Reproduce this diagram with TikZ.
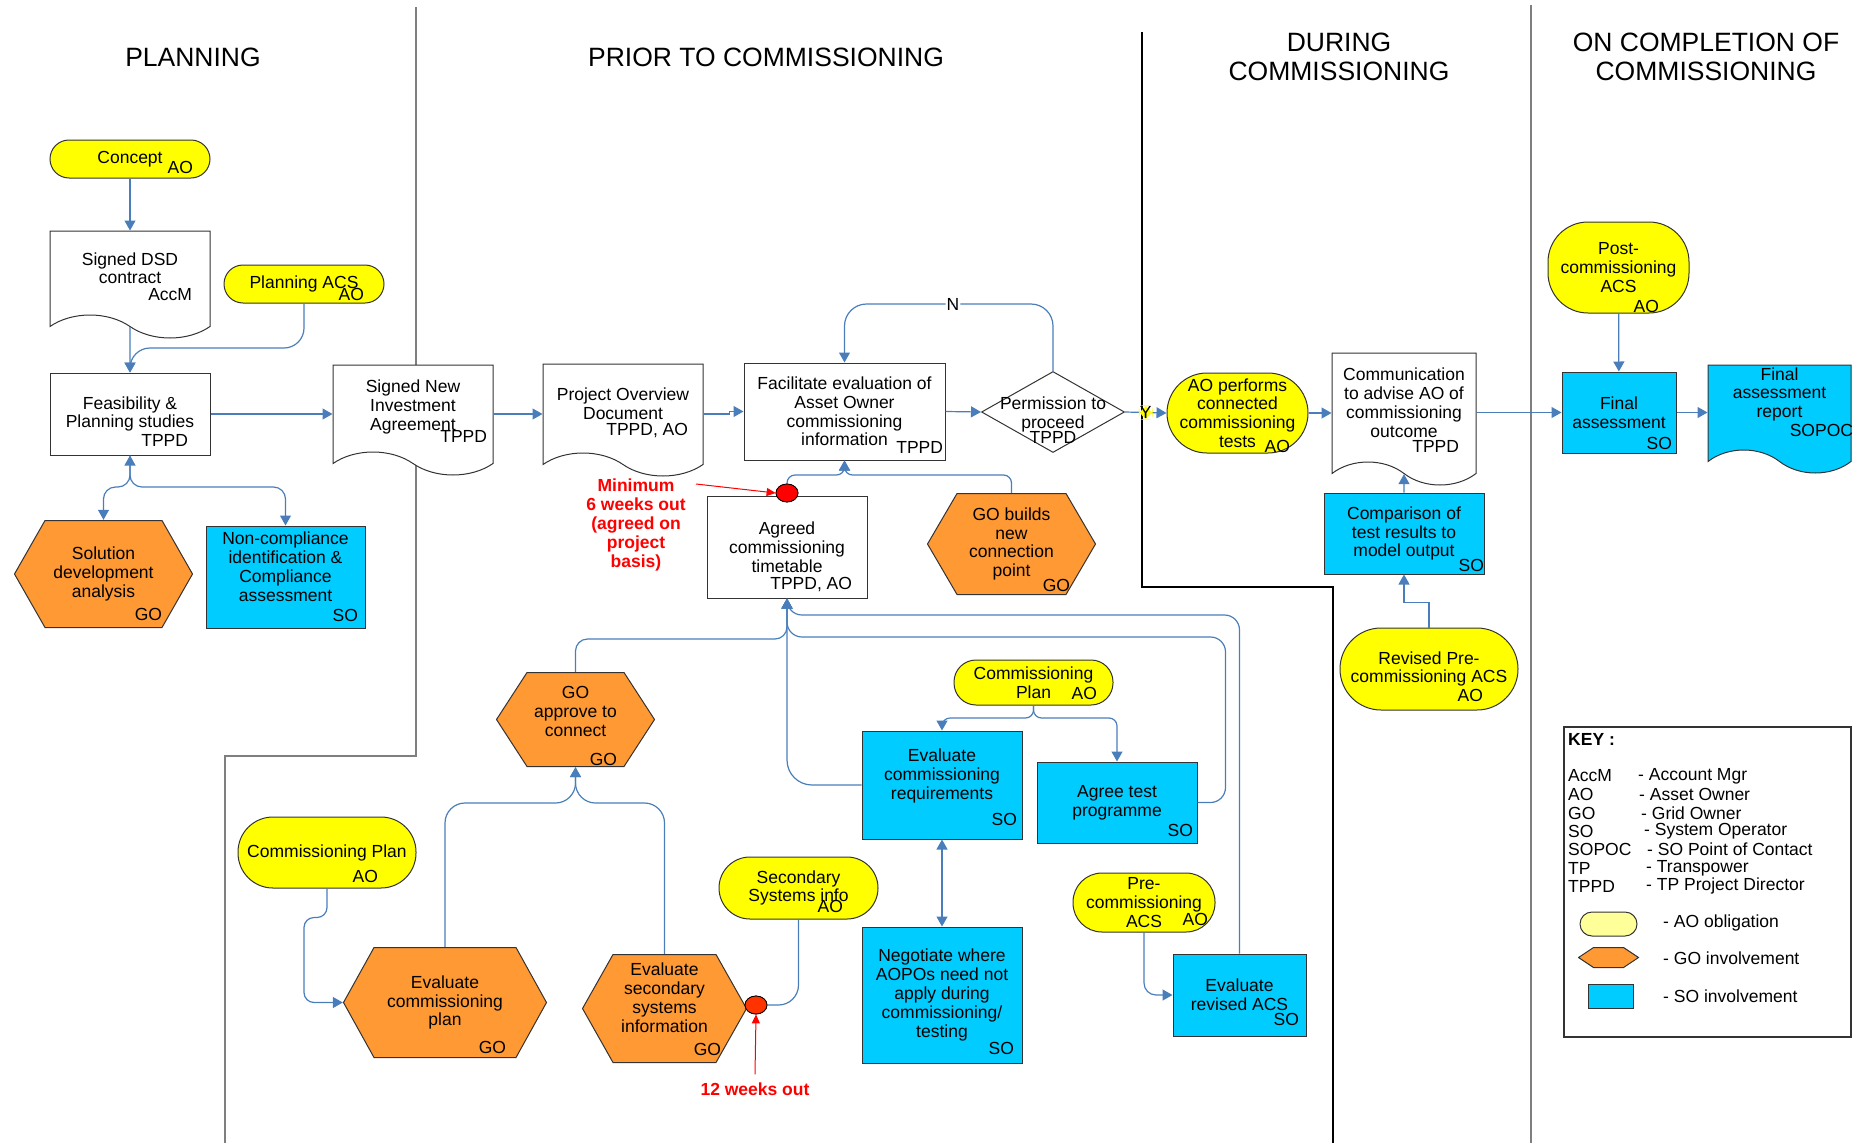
\documentclass[tikz,border=0pt]{standalone}
\usepackage{fontspec}
\setmainfont{Liberation Sans}
\usetikzlibrary{arrows.meta,positioning,shapes.geometric,shapes.symbols}

\definecolor{aoyellow}{HTML}{FFFF00}
\definecolor{keyyellow}{HTML}{FFFF99}
\definecolor{goorange}{HTML}{FF9933}
\definecolor{soblue}{HTML}{00CCFF}
\definecolor{flowblue}{HTML}{4A7EBB}
\definecolor{wallgray}{HTML}{7F7F7F}
\definecolor{warnred}{HTML}{FF0000}
\definecolor{warnorange}{HTML}{FF3300}
\newcommand{\txt}{\fontsize{17.5}{18.8}\selectfont}
\newcommand{\hdr}{\fontsize{26.5}{29}\selectfont}

\begin{document}
\begin{tikzpicture}[x=1pt, y=-1pt,
  every node/.style={font=\txt, align=center, inner sep=0pt},
  box/.style={rectangle, draw=black!80, line width=1pt, fill=white},
  sobox/.style={box, fill=soblue},
  obl/.style={rectangle, rounded corners=#1, draw=black!80, line width=1pt, fill=aoyellow},
  gohex/.style={rectangle, fill=white, path picture={
    \draw[draw=black!80, line width=1pt, fill=goorange]
      ([xshift=0.5pt]path picture bounding box.west)
      -- ([xshift=#1pt, yshift=-0.5pt]path picture bounding box.north west)
      -- ([xshift=-#1pt, yshift=-0.5pt]path picture bounding box.north east)
      -- ([xshift=-0.5pt]path picture bounding box.east)
      -- ([xshift=-#1pt, yshift=0.5pt]path picture bounding box.south east)
      -- ([xshift=#1pt, yshift=0.5pt]path picture bounding box.south west) -- cycle;}},
  doc/.style={tape, tape bend top=none, tape bend bottom=out and in, tape bend height=23pt, draw=black!80, line width=1pt, fill=white},
  decide/.style={diamond, draw=black!80, line width=1pt, fill=white},
  who/.style n args={3}{label={[xshift=#1pt, yshift=#2pt]center:\makebox[0pt][r]{\smash{#3}}}},
  flow/.style={draw=flowblue, line width=1.2pt, ->, rounded corners=12pt},
  warn/.style={draw=warnred, line width=1pt, -{Triangle[length=9pt,width=8pt]}},
  milestone/.style={ellipse, draw=black, line width=0.8pt, fill=#1, minimum width=22pt, minimum height=18pt},
  wall/.style={draw=wallgray, line width=2pt},
  >={Triangle[length=10pt,width=11pt]}]
\useasboundingbox (0,0) rectangle (1865,1143);

\draw[wall] (416,7) -- (416,756) -- (225,756) -- (225,1143);
\draw[wall, draw=black, line width=1.5pt] (1142,32) -- (1142,587) -- (1333,587) -- (1333,1143);
\draw[wall] (1531,5) -- (1531,1143);

\node[font=\hdr] (head_plan) at (193,57) {PLANNING};
\node[font=\hdr] (head_prior) at (766,57) {PRIOR TO COMMISSIONING};
\node[font=\hdr] (head_during) at (1339,57) {DURING\\COMMISSIONING};
\node[font=\hdr] (head_after) at (1706,57) {ON COMPLETION OF\\COMMISSIONING};

\node[obl=19pt, minimum width=160pt, minimum height=38pt, who={63}{-14}{AO}] (concept) at (130,159) {Concept};
\node[doc, minimum width=160pt, minimum height=107pt, who={62}{-27}{AccM}] (signed_dsd) at (130,273) {Signed DSD\\contract\\[-9pt]\mbox{}};
\node[obl=19pt, minimum width=160pt, minimum height=38pt, who={60}{-16}{AO}] (planning_acs) at (304,284) {Planning ACS};
\node[box, minimum width=160pt, minimum height=82pt, who={58}{-32}{TPPD}] (feas) at (130,414) {Feasibility \&\\Planning studies};
\node[doc, minimum width=160pt, minimum height=110pt, who={74}{-33.5}{TPPD}] (signed_nia) at (413,408.5) {Signed New\\Investment\\Agreement\\[-12pt]\mbox{}};
\node[doc, minimum width=160pt, minimum height=112pt, who={65}{-26.5}{TPPD, AO}] (proj_doc) at (623,408.5) {Project Overview\\Document\\[-9pt]\mbox{}};
\node[box, minimum width=201pt, minimum height=97pt, who={98.5}{-41.5}{TPPD}] (facil) at (844.5,411.5) {Facilitate evaluation of\\Asset Owner\\commissioning\\information};
\node[decide, minimum width=143pt, minimum height=81pt, label={[yshift=-8pt]center:Permission to\\proceed\\[-4pt]TPPD}] (permit) at (1053,412) {};
\node[obl=40pt, minimum width=141pt, minimum height=80pt, who={52.5}{-39}{AO}] (ao_tests) at (1237.5,413) {AO performs\\connected\\commissioning\\tests};
\node[doc, minimum width=144pt, minimum height=132pt, who={55}{-44.5}{TPPD}] (comm_doc) at (1404,407.5) {Communication\\to advise AO of\\commissioning\\outcome\\[-9pt]\mbox{}};
\node[sobox, minimum width=114pt, minimum height=81pt, who={53}{-36.5}{SO}] (final_ass) at (1619,412.5) {Final\\assessment};
\node[doc, fill=soblue, minimum width=143pt, minimum height=108pt, who={73.5}{-28.5}{SOPOC}] (final_rep) at (1779.5,407.5) {Final\\assessment\\report\\[11pt]\mbox{}};
\node[obl=40pt, minimum width=141pt, minimum height=91pt, who={40.5}{-44.5}{AO}] (post_acs) at (1618.5,267.5) {Post-\\commissioning\\ACS};

\node[gohex=31, minimum width=179pt, minimum height=108pt, who={58.5}{-46}{GO}] (solution) at (103.5,574) {Solution\\development\\analysis};
\node[sobox, minimum width=159pt, minimum height=102pt, who={72.5}{-44}{SO}] (noncomp) at (285.5,577) {Non-compliance\\identification \&\\Compliance\\assessment\\[2pt]\mbox{}};
\node[box, minimum width=160pt, minimum height=102pt, who={65}{-42}{TPPD, AO}] (agreed) at (787,547) {Agreed\\commissioning\\timetable};
\node[milestone=warnred] (dot6) at (787,493) {};
\node[font=\txt\bfseries, text=warnred] (min_label) at (636,525) {Minimum\\6 weeks out\\(agreed on\\project\\basis)};
\coordinate (min_tail) at (696,484);
\node[gohex=30, minimum width=169pt, minimum height=102pt, who={58.5}{-47}{GO}] (gobuilds) at (1011.5,544) {GO builds\\new\\connection\\point};
\node[sobox, minimum width=160pt, minimum height=81pt, who={80}{-37.5}{SO}] (comparison) at (1404,533.5) {Comparison of\\test results to\\model output};
\node[obl=41pt, minimum width=178pt, minimum height=82pt, who={54}{-32}{AO}] (revised_acs) at (1429,669) {Revised Pre-\\commissioning ACS};

\node[gohex=31, minimum width=159pt, minimum height=95pt, who={41.5}{-45.5}{GO}] (goapprove) at (575.5,719.5) {GO\\approve to\\connect\\[-2pt]\mbox{}};
\node[obl=22pt, minimum width=159pt, minimum height=45pt, who={63.5}{-16.5}{AO}] (cplan_mid) at (1033.5,682.5) {Commissioning\\Plan};
\node[sobox, minimum width=160pt, minimum height=108pt, who={75}{-40}{SO}] (evalreq) at (942,785) {Evaluate\\commissioning\\requirements\\[3pt]\mbox{}};
\node[sobox, minimum width=160pt, minimum height=81pt, who={76}{-33.5}{SO}] (agreetest) at (1117,802.5) {Agree test\\programme};
\node[sobox, minimum width=160pt, minimum height=136pt, who={72}{-59}{SO}] (negotiate) at (942,995) {Negotiate where\\AOPOs need not\\apply during\\commissioning/\\testing};
\node[obl=29pt, minimum width=142pt, minimum height=59pt, who={64}{-22.5}{AO}] (precomm) at (1144,902.5) {Pre-\\commissioning\\ACS};
\node[sobox, minimum width=133pt, minimum height=82pt, who={59.5}{-30}{SO}] (evalrev) at (1239.5,995) {Evaluate\\revised ACS};
\node[obl=35pt, minimum width=178pt, minimum height=71pt, who={51}{-29.5}{AO}] (cplan_left) at (327,852.5) {Commissioning Plan};
\node[gohex=31, minimum width=204pt, minimum height=111pt, who={61}{-50.5}{GO}] (evalplan) at (445,1002.5) {Evaluate\\commissioning\\plan};
\node[gohex=31, minimum width=165pt, minimum height=109pt, who={56.5}{-46.5}{GO}] (evalsec) at (664.5,1008.5) {Evaluate\\secondary\\systems\\information\\[3pt]\mbox{}};
\node[obl=31pt, minimum width=159pt, minimum height=62pt, who={44.5}{-24}{AO}] (secinfo) at (798.5,888) {Secondary\\Systems info};
\node[milestone=warnorange] (dot12) at (756,1005) {};
\node[font=\txt\bfseries, text=warnred] (weeks_lbl) at (755,1089) {12 weeks out};

\node[box, line width=1.5pt, anchor=north west, minimum width=287pt, minimum height=310pt] (key_box) at (1563,726) {};
\node[font=\txt\bfseries, anchor=west] (key_head) at (1568,739) {KEY :};
\foreach \abbr/\desc/\xx/\yy in {AccM/Account Mgr/1638/776, AO/Asset Owner/1639/794, GO/Grid Owner/1641/813, SO/System Operator/1644/831, SOPOC/SO Point of Contact/1647/849, TP/Transpower/1646/868, TPPD/TP Project Director/1646/886}{
  \node[anchor=west] (key_\abbr) at (1568,\yy) {\abbr};
  \node[anchor=west] (key_\abbr_desc) at (\xx,\yy) {- \desc};
}
\node[obl=12pt, fill=keyyellow, minimum width=57pt, minimum height=24pt] (key_ao) at (1608.5,924) {};
\node[gohex=15.5, minimum width=61pt, minimum height=21pt] (key_go) at (1608.5,957.5) {};
\node[sobox, minimum width=45pt, minimum height=24pt] (key_so) at (1610.5,996) {};
\node[anchor=west] (key_ao_txt) at (1663,923) {- AO obligation};
\node[anchor=west] (key_go_txt) at (1663,958) {- GO involvement};
\node[anchor=west] (key_so_txt) at (1663,996) {- SO involvement};

\draw[flow] (concept) -- (signed_dsd);
\draw[flow] (signed_dsd) -- (feas);
\draw[flow, rounded corners=20pt] (planning_acs.south) |- (feas.north |- 0,348) -- (feas.north);
\draw[flow, <->] (feas.south) |- (solution.north |- 0,487) -- (solution.north);
\draw[flow] (feas.south) |- (noncomp.north |- 0,487) -- (noncomp.north);
\draw[flow] (feas.east) -- (feas.east -| signed_nia.west);
\draw[flow] (signed_nia.east |- feas.east) -- (proj_doc.west |- feas.east);
\draw[flow, rounded corners=0pt] (proj_doc.east |- feas.east) -- ++(26,0) |- (facil.west);
\draw[flow] (facil.east) -- (permit.west);
\draw[flow] (permit.east) -- node[fill=aoyellow, inner sep=1pt]{Y} (ao_tests.west);
\draw[flow, rounded corners=22pt] (permit.north) -- (permit.north |- 0,304) -- node[fill=white, inner sep=1pt, pos=0.48]{N} (facil.north |- 0,304) -- (facil.north);
\draw[flow] (ao_tests.east) -- (ao_tests.east -| comm_doc.west);
\draw[flow] (comm_doc.east |- final_ass.west) -- (final_ass.west);
\draw[flow] (final_ass.east) -- (final_ass.east -| final_rep.west);
\draw[flow] (post_acs) -- (final_ass);
\draw[flow] (comparison) -- (comm_doc);
\draw[flow, sharp corners] (revised_acs.north) -- ++(0,-25) -| (comparison.south);

\draw[flow, rounded corners=8pt] (dot6.north) |- (facil.south |- 0,475) -- (facil.south);
\draw[flow, rounded corners=8pt] (gobuilds.north) |- (facil.south |- 0,475) -- (facil.south);
\draw[flow] (goapprove.north) |- (agreed.south |- 0,639) -- (agreed.south);
\draw[flow, rounded corners=25pt] (evalreq.west) -| (agreed.south);
\draw[flow, rounded corners=15pt] (agreetest.east) -- ++(28,0) |- (agreed.south |- 0,637) -- (agreed.south);
\draw[flow, rounded corners=15pt] (evalrev.north) |- (agreed.south |- 0,615) -- (agreed.south);
\draw[flow, rounded corners=8pt] (cplan_mid.south) |- (evalreq.north |- 0,718) -- (evalreq.north);
\draw[flow, rounded corners=8pt] (cplan_mid.south) |- (agreetest.north |- 0,718) -- (agreetest.north);
\draw[flow, <->] (evalreq) -- (negotiate);
\draw[flow] (precomm.south) |- (evalrev.west);
\draw[flow, rounded corners=10pt] (cplan_left.south) -- ++(0,29) -- ++(-23,0) |- (evalplan.west);
\draw[flow, rounded corners=20pt] (evalplan.north) |- (goapprove.south |- 0,803) -- (goapprove.south);
\draw[flow, rounded corners=20pt] (evalsec.north) |- (goapprove.south |- 0,803) -- (goapprove.south);
\draw[flow, -, rounded corners=20pt] (secinfo.south) |- (dot12.east);
\node[milestone=warnred] at (dot6) {};
\node[milestone=warnorange] at (dot12) {};
\draw[warn] (min_tail) -- (dot6.west);
\draw[warn] ([yshift=8pt]weeks_lbl.north) -- (dot12.south);
\end{tikzpicture}
\end{document}
